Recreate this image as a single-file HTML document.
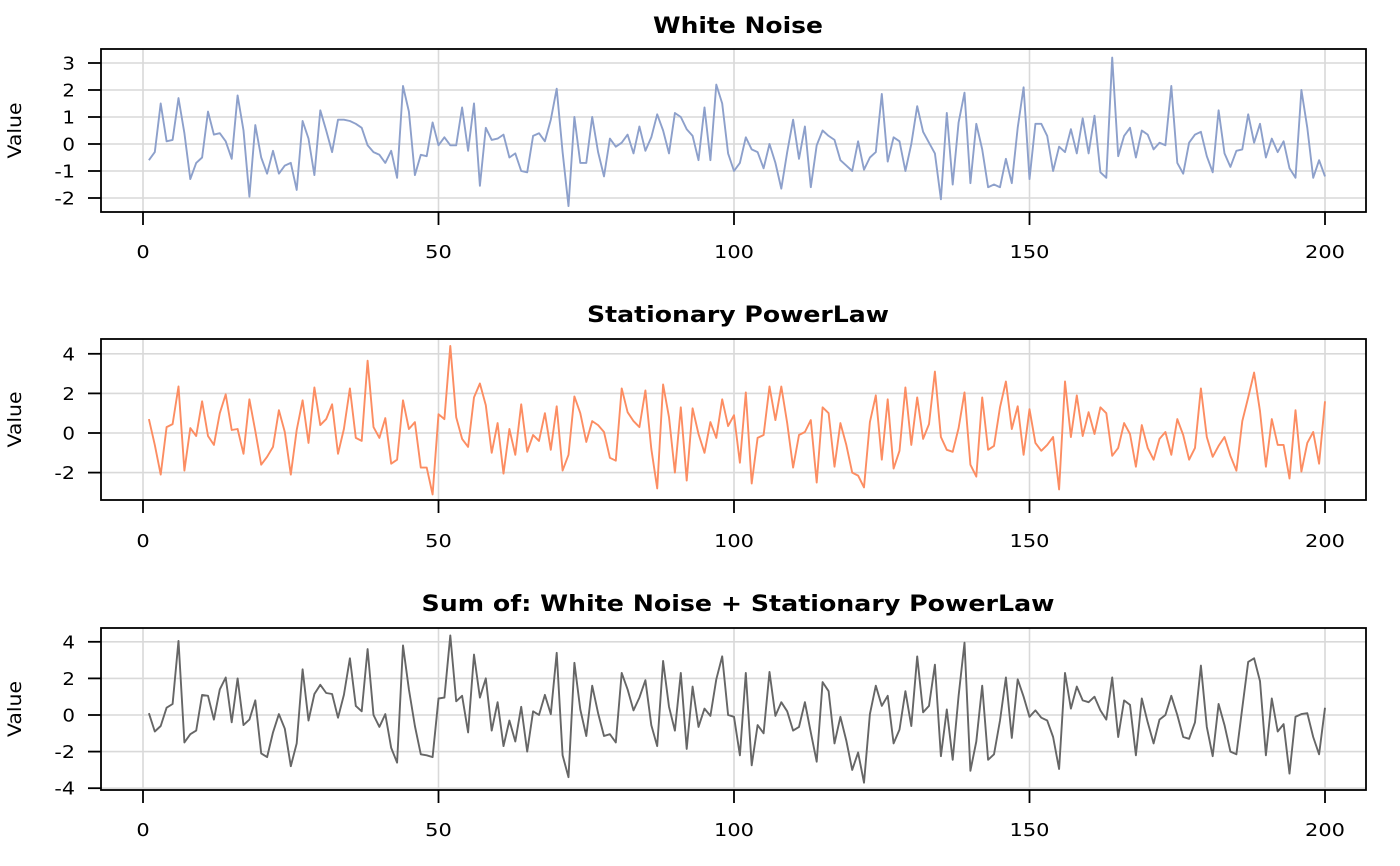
<!DOCTYPE html>
<html><head><meta charset="utf-8"><style>
html,body{margin:0;padding:0;background:#fff;}
svg{display:block;font-family:"DejaVu Sans","Liberation Sans",sans-serif;}
</style></head><body>
<svg id="s" width="1400" height="866" xmlns="http://www.w3.org/2000/svg"></svg>
<script>
var WN=[-0.6,-0.3,1.5,0.1,0.15,1.7,0.4,-1.3,-0.7,-0.5,1.2,0.35,0.4,0.1,-0.55,1.8,0.5,-1.95,0.7,-0.5,-1.1,-0.25,-1.1,-0.8,-0.7,-1.7,0.85,0.2,-1.15,1.25,0.5,-0.3,0.9,0.9,0.85,0.75,0.6,-0.05,-0.3,-0.4,-0.7,-0.25,-1.25,2.15,1.2,-1.15,-0.4,-0.45,0.8,-0.05,0.25,-0.05,-0.05,1.35,-0.25,1.5,-1.55,0.6,0.15,0.2,0.35,-0.5,-0.35,-1.0,-1.05,0.3,0.4,0.1,0.9,2.05,-0.3,-2.3,1.0,-0.7,-0.7,1.0,-0.3,-1.2,0.2,-0.1,0.05,0.35,-0.35,0.65,-0.25,0.25,1.1,0.5,-0.35,1.15,1.0,0.55,0.3,-0.6,1.35,-0.6,2.2,1.5,-0.35,-1.0,-0.7,0.25,-0.2,-0.3,-0.9,0,-0.7,-1.65,-0.3,0.9,-0.55,0.65,-1.6,-0.05,0.5,0.3,0.15,-0.6,-0.8,-1.0,0.1,-0.95,-0.5,-0.3,1.85,-0.65,0.25,0.1,-1.0,0,1.4,0.45,0.05,-0.35,-2.05,1.15,-1.5,0.8,1.9,-1.45,0.75,-0.2,-1.6,-1.5,-1.6,-0.55,-1.45,0.6,2.1,-1.3,0.75,0.75,0.3,-1.0,-0.1,-0.3,0.55,-0.35,0.95,-0.35,1.05,-1.05,-1.25,3.2,-0.45,0.3,0.6,-0.5,0.5,0.35,-0.2,0.05,-0.05,2.15,-0.7,-1.1,0.05,0.35,0.45,-0.45,-1.05,1.25,-0.35,-0.85,-0.25,-0.2,1.1,0.05,0.75,-0.5,0.2,-0.3,0.1,-0.9,-1.25,2.0,0.6,-1.25,-0.6,-1.2];
var PL=[0.7,-0.6,-2.1,0.3,0.45,2.35,-1.9,0.25,-0.15,1.6,-0.15,-0.6,1.0,1.95,0.15,0.2,-1.05,1.7,0.1,-1.6,-1.2,-0.7,1.15,0.05,-2.1,0.15,1.65,-0.5,2.3,0.4,0.7,1.45,-1.05,0.2,2.25,-0.25,-0.4,3.65,0.3,-0.25,0.75,-1.55,-1.35,1.65,0.2,0.55,-1.75,-1.75,-3.1,0.95,0.7,4.4,0.8,-0.3,-0.7,1.8,2.5,1.4,-1.0,0.5,-2.05,0.2,-1.1,1.45,-0.95,-0.1,-0.4,1.0,-0.85,1.35,-1.9,-1.1,1.85,1.0,-0.45,0.6,0.4,0.05,-1.25,-1.4,2.25,1.05,0.6,0.3,2.15,-0.8,-2.8,2.45,0.8,-2.0,1.3,-2.4,1.25,-0.05,-1.0,0.55,-0.25,1.7,0.35,0.9,-1.5,2.05,-2.55,-0.25,-0.1,2.35,0.65,2.35,0.5,-1.75,-0.1,0.05,0.65,-2.5,1.3,1.0,-1.7,0.5,-0.6,-2.0,-2.15,-2.75,0.55,1.9,-1.35,1.7,-1.8,-0.9,2.3,-0.6,1.8,-0.3,0.45,3.1,-0.2,-0.85,-0.95,0.25,2.05,-1.6,-2.2,1.8,-0.85,-0.65,1.3,2.6,0.2,1.35,-1.1,1.2,-0.5,-0.9,-0.6,-0.2,-2.85,2.6,-0.2,1.9,-0.15,1.05,-0.05,1.3,1.0,-1.15,-0.75,0.5,-0.05,-1.7,0.4,-0.75,-1.35,-0.3,0.05,-1.1,0.7,-0.1,-1.35,-0.75,2.25,-0.2,-1.2,-0.65,-0.2,-1.15,-1.9,0.6,1.8,3.05,1.1,-1.7,0.7,-0.6,-0.6,-2.3,1.15,-1.95,-0.5,0.05,-1.55,1.6];
var SUM=WN.map(function(v,i){return v+PL[i];});
var s=document.getElementById('s'),h='';
function X(i){return 143+i*(1182/200);}
function tl(str){var n=0;for(var c of str){n+=(c=='-')?8:12.6;}return n;}
function panel(title,tw,data,col,top,bot,y0,ppu,ticks,tY,lY){
  var Y=function(v){return y0-v*ppu;};
  h+='<text x="738" y="'+tY+'" text-anchor="middle" font-weight="bold" font-size="22" textLength="'+tw+'" lengthAdjust="spacingAndGlyphs">'+title+'</text>';
  [0,50,100,150,200].forEach(function(t){h+='<line x1="'+X(t)+'" x2="'+X(t)+'" y1="'+top+'" y2="'+bot+'" stroke="#d9d9d9" stroke-width="1.6"/>';});
  ticks.forEach(function(t){h+='<line x1="101" x2="1366" y1="'+Y(t)+'" y2="'+Y(t)+'" stroke="#d9d9d9" stroke-width="1.6"/>';});
  var p=data.map(function(v,i){return X(i+1).toFixed(1)+','+Y(v).toFixed(1);}).join(' ');
  h+='<polyline points="'+p+'" fill="none" stroke="'+col+'" stroke-width="1.9" stroke-linejoin="round"/>';
  h+='<rect x="101" y="'+top+'" width="1265" height="'+(bot-top)+'" fill="none" stroke="#000" stroke-width="1.8"/>';
  ticks.forEach(function(t){var lab=(t<0?'-'+(-t):''+t);
    h+='<line x1="88" x2="101" y1="'+Y(t)+'" y2="'+Y(t)+'" stroke="#000" stroke-width="1.8"/>';
    h+='<text x="75" y="'+(Y(t)+6.5)+'" text-anchor="end" font-size="18" textLength="'+tl(lab)+'" lengthAdjust="spacingAndGlyphs">'+lab+'</text>';});
  [0,50,100,150,200].forEach(function(t){var lab=''+t;
    h+='<line x1="'+X(t)+'" x2="'+X(t)+'" y1="'+bot+'" y2="'+(bot+13)+'" stroke="#000" stroke-width="1.8"/>';
    h+='<text x="'+X(t)+'" y="'+lY+'" text-anchor="middle" font-size="18" textLength="'+(lab.length*13.3)+'" lengthAdjust="spacingAndGlyphs">'+lab+'</text>';});
  var my=(top+bot)/2;
  h+='<text transform="translate(21,'+my+') rotate(-90)" text-anchor="middle" font-size="19" textLength="56" lengthAdjust="spacingAndGlyphs">Value</text>';
}
panel('White Noise',170,WN,'#8DA0CB',49,212,144,27,[-2,-1,0,1,2,3],33,258);
panel('Stationary PowerLaw',302,PL,'#FC8D62',339,500,433,19.8,[-2,0,2,4],322,547);
panel('Sum of: White Noise + Stationary PowerLaw',633,SUM,'#666666',628,790,715,18.3,[-4,-2,0,2,4],611,836);
s.innerHTML=h;
</script>
</body></html>
